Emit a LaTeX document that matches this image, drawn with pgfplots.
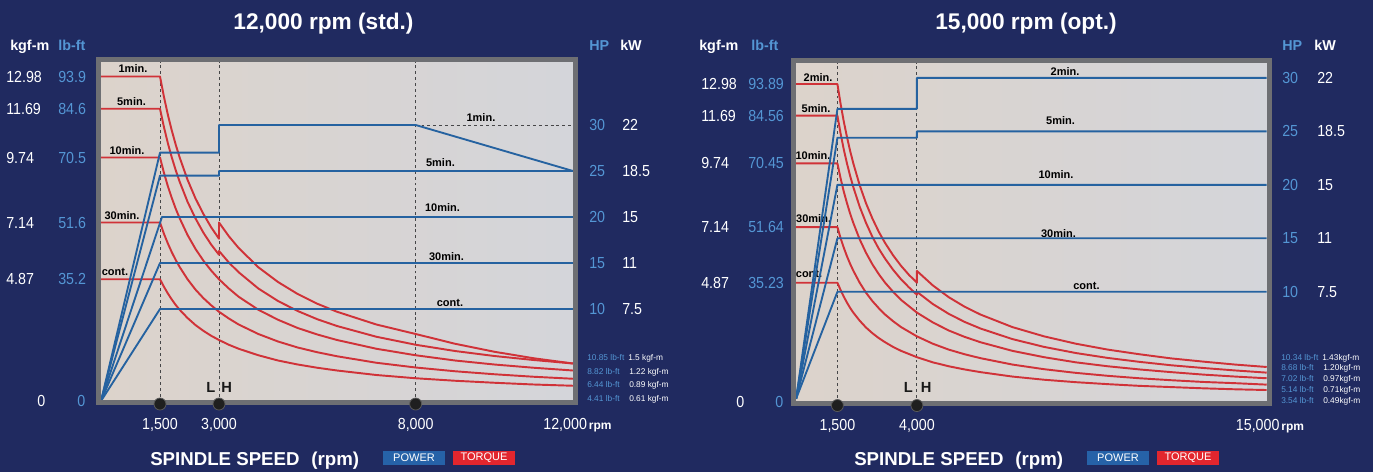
\documentclass[border=0pt]{standalone}
\usepackage{pgfplots}
\pgfplotsset{compat=1.18}
\usepackage{fontspec}
\setmainfont{Liberation Sans}
\newfontfamily\narrow{Liberation Sans}[FakeStretch=0.89]
\definecolor{navy}{RGB}{32,42,96}
\definecolor{framegray}{RGB}{110,111,115}
\definecolor{pblue}{RGB}{37,98,160}
\definecolor{tred}{RGB}{208,50,56}
\definecolor{lblue}{RGB}{84,150,212}
\definecolor{legblue}{RGB}{38,98,168}
\definecolor{legred}{RGB}{226,38,46}
\definecolor{bgL}{RGB}{220,211,203}
\definecolor{bgR}{RGB}{212,213,218}
\definecolor{dashgray}{RGB}{70,70,72}

\pgfplotsset{
  panel/.style={
    scale only axis, anchor=south west, height=257.25pt,
    axis line style={draw=none}, tick style={draw=none}, major tick length=0pt,
    clip=false, scaled x ticks=false, scaled y ticks=false,
    tick label style={text=white, inner sep=0pt, font=\narrow\fontsize{12}{14}\selectfont},
    xticklabel style={anchor=base, yshift=-19.875pt},
  },
  tq/.style={color=tred, line width=1.45pt, line join=round},
  pw/.style={color=pblue, line width=1.4pt, line join=round},
  vdash/.style={color=dashgray, line width=0.7pt, dash pattern=on 2.2pt off 2.2pt},
  dot/.style={only marks, mark=*, mark size=4.5pt, mark options={fill=black!88, draw=gray!70!black, line width=0.6pt}},
}
\tikzset{
  clabel/.style={font=\bfseries\fontsize{8.25}{9}\selectfont, text=black, inner sep=0pt},
  lh/.style={font=\bfseries\fontsize{11}{12}\selectfont, text=black!90, inner sep=0pt},
  t/.style={inner sep=0pt, text=white},
  hdr/.style={t, anchor=base west, font=\bfseries\fontsize{10.75}{12}\selectfont},
  endl/.style={t, anchor=base west, font=\fontsize{6.25}{7}\selectfont},
}

\begin{document}
\begin{tikzpicture}
\useasboundingbox (0,0) rectangle (1029.75pt,354pt);
\fill[navy] (0,0) rectangle (1029.75pt,354pt);

%% ---------- 12,000 rpm (std.) ----------
\begin{axis}[panel, at={(73.875pt,52.125pt)}, width=357.75pt,
  xmin=-63.6, xmax=12063.6, ymin=-0.06, ymax=13.66,
  axis background/.style={left color=bgL, middle color=white!97!gray, right color=bgR},
  xtick={1500,3000,8000,12000},
  xticklabels={{1,500},{3,000},{8,000},{\hspace{6.75pt}12,000\hspace{1.5pt}{\normalfont\bfseries\fontsize{9}{10}\selectfont rpm}}},
  ytick={0,4.87,7.14,9.74,11.69,12.98},
  yticklabels={
    {\makebox[39pt][l]{\hspace{23.25pt}0}\hspace{14.25pt}\textcolor{lblue}{0}},
    {\makebox[39pt][l]{4.87}\textcolor{lblue}{35.2}},
    {\makebox[39pt][l]{7.14}\textcolor{lblue}{51.6}},
    {\makebox[39pt][l]{9.74}\textcolor{lblue}{70.5}},
    {\makebox[39pt][l]{11.69}\textcolor{lblue}{84.6}},
    {\makebox[39pt][l]{12.98}\textcolor{lblue}{93.9}}},
  yticklabel style={anchor=west, xshift=-69.375pt},
]
\addplot[vdash] coordinates {(1500,-0.06) (1500,13.56)};
\addplot[vdash] coordinates {(3000,-0.06) (3000,13.56)};
\addplot[vdash] coordinates {(8000,-0.06) (8000,13.56)};
% torque, kgf-m
\addplot[tq] coordinates {(0,12.98) (1500,12.98) (1600,12.17) (1700,11.45) (1800,10.82) (1900,10.25) (2000,9.74) (2200,8.85) (2400,8.11) (2600,7.49) (2800,6.95) (3000,6.49) (3000,7.14) (3250,6.59) (3500,6.12) (4000,5.35) (4500,4.76) (5000,4.28) (5500,3.89) (6000,3.57) (7000,3.06) (8000,2.68) (9000,2.29) (10000,1.97) (11000,1.71) (12000,1.50)};
\addplot[tq] coordinates {(0,11.69) (1500,11.69) (1600,10.96) (1700,10.31) (1800,9.74) (1900,9.23) (2000,8.77) (2200,7.97) (2400,7.31) (2600,6.74) (2800,6.26) (3000,5.85) (3000,6.00) (3250,5.54) (3500,5.15) (4000,4.50) (4500,4.00) (5000,3.60) (5500,3.27) (6000,3.00) (7000,2.57) (8000,2.25) (9000,2.00) (10000,1.80) (11000,1.64) (12000,1.50)};
\addplot[tq] coordinates {(0,9.74) (1500,9.74) (1600,9.13) (1700,8.59) (1800,8.12) (1900,7.69) (2000,7.31) (2200,6.64) (2400,6.09) (2600,5.62) (2800,5.22) (3000,4.87) (3250,4.50) (3500,4.17) (4000,3.65) (4500,3.25) (5000,2.92) (5500,2.66) (6000,2.44) (7000,2.09) (8000,1.83) (9000,1.62) (10000,1.46) (11000,1.33) (12000,1.22)};
\addplot[tq] coordinates {(0,7.14) (1500,7.14) (1600,6.69) (1700,6.30) (1800,5.95) (1900,5.64) (2000,5.36) (2200,4.87) (2400,4.46) (2600,4.12) (2800,3.83) (3000,3.57) (3250,3.30) (3500,3.06) (4000,2.68) (4500,2.38) (5000,2.14) (5500,1.95) (6000,1.79) (7000,1.53) (8000,1.34) (9000,1.19) (10000,1.07) (11000,0.97) (12000,0.89)};
\addplot[tq] coordinates {(0,4.87) (1500,4.87) (1600,4.57) (1700,4.30) (1800,4.06) (1900,3.84) (2000,3.65) (2200,3.32) (2400,3.04) (2600,2.81) (2800,2.61) (3000,2.44) (3250,2.25) (3500,2.09) (4000,1.83) (4500,1.62) (5000,1.46) (5500,1.33) (6000,1.22) (7000,1.04) (8000,0.91) (9000,0.81) (10000,0.73) (11000,0.66) (12000,0.61)};
\node[clabel] at (813,13.28) {1min.};
\node[clabel] at (775,11.96) {5min.};
\node[clabel] at (661,10.0) {10min.};
\node[clabel] at (534,7.42) {30min.};
\node[clabel] at (356,5.16) {cont.};
\node[lh, anchor=east, xshift=-2.6pt] at (3000,0.56) {L};
\node[lh, anchor=west, xshift=1.6pt] at (3000,0.56) {H};
\end{axis}

\begin{axis}[panel, at={(73.875pt,52.125pt)}, width=357.75pt,
  xmin=-63.6, xmax=12063.6, ymin=-0.163, ymax=37.12,
  xtick=\empty,
  ytick={10,15,20,25,30}, yticklabel pos=right,
  yticklabels={
    {\makebox[24.75pt][l]{\textcolor{lblue}{10}}7.5},
    {\makebox[24.75pt][l]{\textcolor{lblue}{15}}11},
    {\makebox[24.75pt][l]{\textcolor{lblue}{20}}15},
    {\makebox[24.75pt][l]{\textcolor{lblue}{25}}18.5},
    {\makebox[24.75pt][l]{\textcolor{lblue}{30}}22}},
  yticklabel style={anchor=west, xshift=10.125pt},
]
% power, HP
\addplot[vdash, line width=0.7pt] coordinates {(8000,30) (12000,30)};
\addplot[pw] coordinates {(0,0) (1500,27) (3000,27) (3000,30) (8000,30) (12000,25)};
\addplot[pw] coordinates {(0,0) (1500,24.5) (3000,24.5) (3000,25) (12000,25)};
\addplot[pw] coordinates {(0,0) (1550,20) (12000,20)};
\addplot[pw] coordinates {(0,0) (1500,15) (12000,15)};
\addplot[pw] coordinates {(0,0) (1500,10) (12000,10)};
\node[clabel] at (9660,30.8) {1min.};
\node[clabel] at (8630,25.9) {5min.};
\node[clabel] at (8681,21.0) {10min.};
\node[clabel] at (8783,15.7) {30min.};
\node[clabel] at (8872,10.65) {cont.};
\draw[framegray, line width=3.75pt] (rel axis cs:0,0) rectangle (rel axis cs:1,1);
\addplot[dot] coordinates {(1500,-0.33) (3000,-0.33) (8000,-0.33)};
\end{axis}

%% ---------- 15,000 rpm (opt.) ----------
\begin{axis}[panel, at={(595.125pt,51.375pt)}, width=357pt,
  xmin=119, xmax=15088, ymin=-0.06, ymax=13.94,
  axis background/.style={left color=bgL, middle color=white!97!gray, right color=bgR},
  xtick={1500,4000,15000},
  xticklabels={{1,500},{4,000},{\hspace{5pt}15,000\hspace{1.5pt}{\normalfont\bfseries\fontsize{9}{10}\selectfont rpm}}},
  ytick={0,4.87,7.14,9.74,11.69,12.98},
  yticklabels={
    {\makebox[35.25pt][l]{\hspace{26.25pt}0}\hspace{20.25pt}\textcolor{lblue}{0}},
    {\makebox[35.25pt][l]{4.87}\textcolor{lblue}{35.23}},
    {\makebox[35.25pt][l]{7.14}\textcolor{lblue}{51.64}},
    {\makebox[35.25pt][l]{9.74}\textcolor{lblue}{70.45}},
    {\makebox[35.25pt][l]{11.69}\textcolor{lblue}{84.56}},
    {\makebox[35.25pt][l]{12.98}\textcolor{lblue}{93.89}}},
  yticklabel style={anchor=west, xshift=-69.375pt},
]
\addplot[vdash] coordinates {(1500,-0.06) (1500,13.84)};
\addplot[vdash] coordinates {(4000,-0.06) (4000,13.84)};
% torque, kgf-m
\addplot[tq] coordinates {(200,12.98) (1500,12.98) (1600,12.17) (1700,11.45) (1800,10.82) (1900,10.25) (2000,9.74) (2200,8.85) (2400,8.11) (2600,7.49) (2800,6.95) (3000,6.49) (3250,5.99) (3500,5.56) (3750,5.19) (4000,4.87) (4000,5.35) (4500,4.76) (5000,4.28) (5500,3.89) (6000,3.57) (7000,3.06) (8000,2.68) (9000,2.38) (10000,2.14) (11000,1.95) (12000,1.78) (13000,1.65) (14000,1.53) (15000,1.43)};
\addplot[tq] coordinates {(200,11.69) (1500,11.69) (1600,10.96) (1700,10.31) (1800,9.74) (1900,9.23) (2000,8.77) (2200,7.97) (2400,7.31) (2600,6.74) (2800,6.26) (3000,5.85) (3250,5.40) (3500,5.01) (3750,4.68) (4000,4.38) (4000,4.50) (4500,4.00) (5000,3.60) (5500,3.27) (6000,3.00) (7000,2.57) (8000,2.25) (9000,2.00) (10000,1.80) (11000,1.64) (12000,1.50) (13000,1.39) (14000,1.29) (15000,1.20)};
\addplot[tq] coordinates {(200,9.74) (1500,9.74) (1600,9.13) (1700,8.59) (1800,8.12) (1900,7.69) (2000,7.31) (2200,6.64) (2400,6.09) (2600,5.62) (2800,5.22) (3000,4.87) (3250,4.50) (3500,4.17) (4000,3.65) (4500,3.25) (5000,2.92) (5500,2.66) (6000,2.44) (7000,2.09) (8000,1.83) (9000,1.62) (10000,1.46) (11000,1.33) (12000,1.22) (13000,1.12) (14000,1.04) (15000,0.97)};
\addplot[tq] coordinates {(200,7.14) (1500,7.14) (1600,6.69) (1700,6.30) (1800,5.95) (1900,5.64) (2000,5.36) (2200,4.87) (2400,4.46) (2600,4.12) (2800,3.83) (3000,3.57) (3250,3.30) (3500,3.06) (4000,2.68) (4500,2.38) (5000,2.14) (5500,1.95) (6000,1.79) (7000,1.53) (8000,1.34) (9000,1.19) (10000,1.07) (11000,0.97) (12000,0.89) (13000,0.82) (14000,0.77) (15000,0.71)};
\addplot[tq] coordinates {(200,4.87) (1500,4.87) (1600,4.57) (1700,4.30) (1800,4.06) (1900,3.84) (2000,3.65) (2200,3.32) (2400,3.04) (2600,2.81) (2800,2.61) (3000,2.44) (3250,2.25) (3500,2.09) (4000,1.83) (4500,1.62) (5000,1.46) (5500,1.33) (6000,1.22) (7000,1.04) (8000,0.91) (9000,0.81) (10000,0.73) (11000,0.66) (12000,0.61) (13000,0.56) (14000,0.52) (15000,0.49)};
\node[clabel] at (890,13.24) {2min.};
\node[clabel] at (827,11.96) {5min.};
\node[clabel] at (733,10.04) {10min.};
\node[clabel] at (752,7.49) {30min.};
\node[clabel] at (607,5.24) {cont.};
\node[lh, anchor=east, xshift=-2.8pt] at (4000,0.61) {L};
\node[lh, anchor=west, xshift=2.8pt] at (4000,0.61) {H};
\end{axis}

\begin{axis}[panel, at={(595.125pt,51.375pt)}, width=357pt,
  xmin=119, xmax=15088, ymin=-0.44, ymax=31.62,
  xtick=\empty,
  ytick={10,15,20,25,30}, yticklabel pos=right,
  yticklabels={
    {\makebox[26.25pt][l]{\textcolor{lblue}{10}}7.5},
    {\makebox[26.25pt][l]{\textcolor{lblue}{15}}11},
    {\makebox[26.25pt][l]{\textcolor{lblue}{20}}15},
    {\makebox[26.25pt][l]{\textcolor{lblue}{25}}18.5},
    {\makebox[26.25pt][l]{\textcolor{lblue}{30}}22}},
  yticklabel style={anchor=west, xshift=9.375pt},
]
% power, HP
\addplot[pw] coordinates {(200,0) (1500,27.1) (4000,27.1) (4000,30) (15000,30)};
\addplot[pw] coordinates {(200,0) (1500,24.4) (4000,24.4) (4000,25) (15000,25)};
\addplot[pw] coordinates {(200,0) (1500,20) (15000,20)};
\addplot[pw] coordinates {(200,0) (1500,15) (15000,15)};
\addplot[pw] coordinates {(200,0) (1500,10) (15000,10)};
\node[clabel] at (8657,30.6) {2min.};
\node[clabel] at (8516,25.96) {5min.};
\node[clabel] at (8374,21.0) {10min.};
\node[clabel] at (8453,15.4) {30min.};
\node[clabel] at (9333,10.54) {cont.};
\draw[framegray, line width=3.75pt] (rel axis cs:0,0) rectangle (rel axis cs:1,1);
\addplot[dot] coordinates {(1500,-0.63) (4000,-0.63)};
\end{axis}

%% ---------- texts around the panels (pixel grid, y down) ----------
\begin{scope}[x=0.75pt, y=-0.75pt, yshift=354pt]
\node[t, anchor=base, font=\bfseries\fontsize{17}{20}\selectfont] at (323.5,29.3) {12,000 rpm (std.)};
\node[t, anchor=base, font=\bfseries\fontsize{17}{20}\selectfont] at (1026,29.3) {15,000 rpm (opt.)};

\node[hdr] at (10,51) {kgf-m};
\node[hdr, text=lblue] at (58,51) {lb-ft};
\node[hdr, text=lblue] at (589,51) {HP};
\node[hdr] at (620,51) {kW};
\node[hdr] at (699,51) {kgf-m};
\node[hdr, text=lblue] at (751,51) {lb-ft};
\node[hdr, text=lblue] at (1282,51) {HP};
\node[hdr] at (1314,51) {kW};

\node[endl, text=lblue] at (587,360) {10.85 lb-ft};
\node[endl] at (628,360) {1.5 kgf-m};
\node[endl, text=lblue] at (587,374) {8.82 lb-ft};
\node[endl] at (629,374) {1.22 kgf-m};
\node[endl, text=lblue] at (587,387) {6.44 lb-ft};
\node[endl] at (629,387) {0.89 kgf-m};
\node[endl, text=lblue] at (587,401.3) {4.41 lb-ft};
\node[endl] at (629,401.3) {0.61 kgf-m};

\node[endl, text=lblue] at (1281,360) {10.34 lb-ft};
\node[endl] at (1322,360) {1.43kgf-m};
\node[endl, text=lblue] at (1281,370.3) {8.68 lb-ft};
\node[endl] at (1323,370.3) {1.20kgf-m};
\node[endl, text=lblue] at (1281,381.7) {7.02 lb-ft};
\node[endl] at (1323,381.7) {0.97kgf-m};
\node[endl, text=lblue] at (1281,392.3) {5.14 lb-ft};
\node[endl] at (1323,392.3) {0.71kgf-m};
\node[endl, text=lblue] at (1281,403.3) {3.54 lb-ft};
\node[endl] at (1323,403.3) {0.49kgf-m};

\node[t, anchor=base west, font=\bfseries\fontsize{14}{16}\selectfont] at (150,465) {SPINDLE SPEED\hspace{5pt} (rpm)};
\node[t, anchor=base west, font=\bfseries\fontsize{14}{16}\selectfont] at (854,465) {SPINDLE SPEED\hspace{5pt} (rpm)};
\fill[legblue] (383,451) rectangle (445,465);
\node[t, font=\fontsize{8.25}{10}\selectfont] at (414,458) {POWER};
\fill[legred] (453,451) rectangle (515,465);
\node[t, font=\fontsize{8.25}{10}\selectfont] at (484,458) {TORQUE};
\fill[legblue] (1087,451) rectangle (1149,465);
\node[t, font=\fontsize{8.25}{10}\selectfont] at (1118,458) {POWER};
\fill[legred] (1157,451) rectangle (1219,465);
\node[t, font=\fontsize{8.25}{10}\selectfont] at (1188,458) {TORQUE};
\end{scope}
\end{tikzpicture}
\end{document}
